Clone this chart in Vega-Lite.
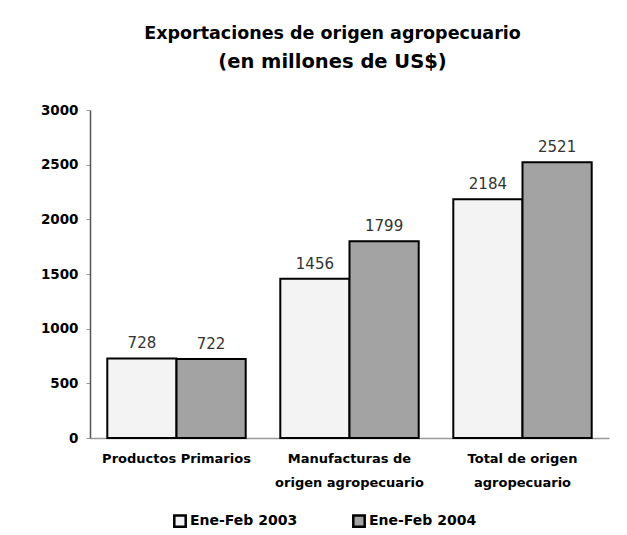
{
  "$schema": "https://vega.github.io/schema/vega-lite/v6.json",
  "width": 519,
  "height": 328,
  "autosize": "none",
  "padding": {"left": 90, "top": 110, "right": 18, "bottom": 97},
  "background": "white",
  "title": {
    "text": "Exportaciones de origen agropecuario",
    "subtitle": "(en millones de US$)",
    "font": "DejaVu Sans",
    "fontSize": 17.5,
    "fontWeight": "bold",
    "color": "black",
    "subtitleFont": "DejaVu Sans",
    "subtitleFontSize": 19.5,
    "subtitleFontWeight": "bold",
    "subtitleColor": "black",
    "subtitlePadding": 10,
    "anchor": "middle",
    "dx": -17,
    "offset": 32
  },
  "data": {
    "values": [
      {"categoria": "Productos Primarios", "periodo": "Ene-Feb 2003", "valor": 728},
      {"categoria": "Productos Primarios", "periodo": "Ene-Feb 2004", "valor": 722},
      {"categoria": "Manufacturas de origen agropecuario", "periodo": "Ene-Feb 2003", "valor": 1456},
      {"categoria": "Manufacturas de origen agropecuario", "periodo": "Ene-Feb 2004", "valor": 1799},
      {"categoria": "Total de origen agropecuario", "periodo": "Ene-Feb 2003", "valor": 2184},
      {"categoria": "Total de origen agropecuario", "periodo": "Ene-Feb 2004", "valor": 2521}
    ]
  },
  "encoding": {
    "x": {
      "field": "categoria",
      "type": "nominal",
      "sort": null,
      "title": null,
      "scale": {"paddingInner": 0.2, "paddingOuter": 0.1},
      "axis": {
        "labelAngle": 0,
        "labelFont": "DejaVu Sans",
        "labelFontWeight": "bold",
        "labelFontSize": 13,
        "labelColor": "black",
        "labelPadding": 14,
        "labelLineHeight": 24,
        "ticks": false,
        "domainColor": "#999999",
        "domainWidth": 1.5,
        "labelExpr": "datum.value == 'Manufacturas de origen agropecuario' ? ['Manufacturas de', 'origen agropecuario'] : datum.value == 'Total de origen agropecuario' ? ['Total de origen', 'agropecuario'] : datum.value"
      }
    },
    "xOffset": {
      "field": "periodo",
      "type": "nominal",
      "scale": {"paddingInner": 0, "paddingOuter": 0}
    },
    "y": {
      "field": "valor",
      "type": "quantitative",
      "title": null,
      "scale": {"domain": [0, 3000]},
      "axis": {
        "values": [0, 500, 1000, 1500, 2000, 2500, 3000],
        "format": "d",
        "grid": false,
        "labelFont": "DejaVu Sans",
        "labelFontWeight": "bold",
        "labelFontSize": 13.5,
        "labelColor": "black",
        "labelPadding": 8,
        "tickSize": 4,
        "tickColor": "#999999",
        "domainColor": "#555555",
        "domainWidth": 1.5
      }
    }
  },
  "layer": [
    {
      "mark": {"type": "bar", "stroke": "black", "strokeWidth": 2},
      "encoding": {
        "fill": {
          "field": "periodo",
          "type": "nominal",
          "title": null,
          "scale": {"domain": ["Ene-Feb 2003", "Ene-Feb 2004"], "range": ["#f3f3f3", "#a3a3a3"]},
          "legend": {
            "orient": "none",
            "legendX": 83,
            "legendY": 404,
            "direction": "horizontal",
            "symbolType": "square",
            "symbolSize": 130,
            "symbolStrokeColor": "black",
            "symbolStrokeWidth": 2.5,
            "labelFont": "DejaVu Sans",
            "labelFontWeight": "bold",
            "labelFontSize": 14,
            "labelColor": "black",
            "labelOffset": 3,
            "columnPadding": 50
          }
        }
      }
    },
    {
      "mark": {"type": "text", "dy": -15, "font": "DejaVu Sans", "fontSize": 15, "color": "#333333"},
      "encoding": {"text": {"field": "valor", "type": "quantitative"}}
    }
  ],
  "config": {"view": {"stroke": null}}
}
